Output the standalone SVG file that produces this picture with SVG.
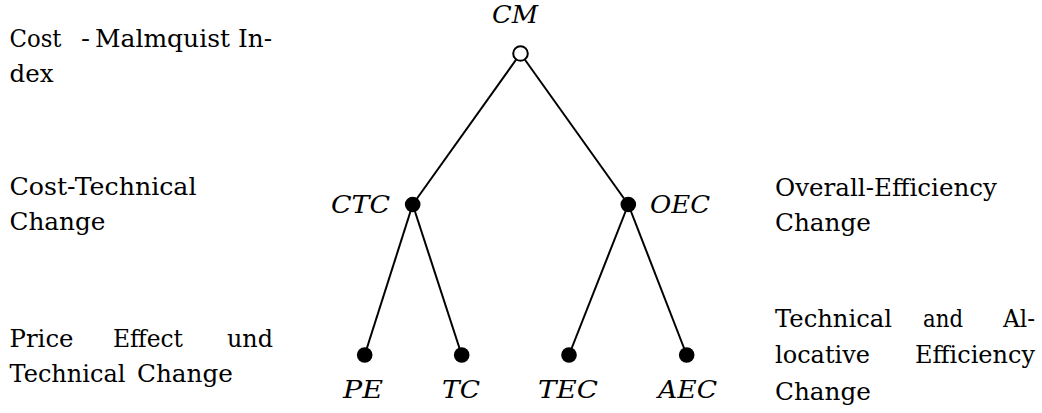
<svg xmlns="http://www.w3.org/2000/svg" width="1042" height="413" viewBox="0 0 1042 413">
<style>
.t{font-size:25px;fill:#000}
.m{font-size:25px;font-style:italic;fill:#000}
.e{stroke:#000;stroke-width:2;fill:none}
.d{fill:#000}
</style>
<rect width="1042" height="413" fill="#fff"/>
<g id="connectors">
<line class="e" x1="520.5" y1="53.5" x2="412.7" y2="204.5"/>
<line class="e" x1="520.5" y1="53.5" x2="628.3" y2="204.5"/>
<line class="e" x1="412.7" y1="204.5" x2="364.7" y2="355"/>
<line class="e" x1="412.7" y1="204.5" x2="461.7" y2="355"/>
<line class="e" x1="628.3" y1="204.5" x2="569" y2="355"/>
<line class="e" x1="628.3" y1="204.5" x2="686.7" y2="355"/>
</g>
<g font-family="DejaVu Serif">
<g id="node-CM">
<circle cx="520.5" cy="53.5" r="7.3" fill="#fff" stroke="#000" stroke-width="2"/>
<text class="m" x="492" y="23" textLength="46" lengthAdjust="spacingAndGlyphs">CM</text>
</g>
<g id="node-CTC">
<circle class="d" cx="412.7" cy="204.5" r="7.8"/>
<text class="m" x="331" y="213" textLength="59" lengthAdjust="spacingAndGlyphs">CTC</text>
</g>
<g id="node-OEC">
<circle class="d" cx="628.3" cy="204.5" r="7.8"/>
<text class="m" x="650" y="213" textLength="60" lengthAdjust="spacingAndGlyphs">OEC</text>
</g>
<g id="node-PE">
<circle class="d" cx="364.7" cy="355" r="7.8"/>
<text class="m" x="343" y="398" textLength="40" lengthAdjust="spacingAndGlyphs">PE</text>
</g>
<g id="node-TC">
<circle class="d" cx="461.7" cy="355" r="7.8"/>
<text class="m" x="442" y="398" textLength="38" lengthAdjust="spacingAndGlyphs">TC</text>
</g>
<g id="node-TEC">
<circle class="d" cx="569" cy="355" r="7.8"/>
<text class="m" x="538" y="398" textLength="60" lengthAdjust="spacingAndGlyphs">TEC</text>
</g>
<g id="node-AEC">
<circle class="d" cx="686.7" cy="355" r="7.8"/>
<text class="m" x="658" y="398" textLength="59" lengthAdjust="spacingAndGlyphs">AEC</text>
</g>
<g id="label-cost-malmquist">
<text class="t" x="9.5" y="47" textLength="52" lengthAdjust="spacingAndGlyphs">Cost</text>
<text class="t" x="81" y="47" textLength="9" lengthAdjust="spacingAndGlyphs">-</text>
<text class="t" x="95" y="47" textLength="135" lengthAdjust="spacingAndGlyphs">Malmquist</text>
<text class="t" x="238" y="47" textLength="34" lengthAdjust="spacingAndGlyphs">In-</text>
<text class="t" x="9.5" y="82" textLength="44" lengthAdjust="spacingAndGlyphs">dex</text>
</g>
<g id="label-cost-technical">
<text class="t" x="9.5" y="195" textLength="187" lengthAdjust="spacingAndGlyphs">Cost-Technical</text>
<text class="t" x="9.5" y="230" textLength="96" lengthAdjust="spacingAndGlyphs">Change</text>
</g>
<g id="label-price-effect">
<text class="t" x="9.5" y="347" textLength="64" lengthAdjust="spacingAndGlyphs">Price</text>
<text class="t" x="113" y="347" textLength="70" lengthAdjust="spacingAndGlyphs">Effect</text>
<text class="t" x="227" y="347" textLength="46" lengthAdjust="spacingAndGlyphs">und</text>
<text class="t" x="9.5" y="382" textLength="116" lengthAdjust="spacingAndGlyphs">Technical</text>
<text class="t" x="137" y="382" textLength="96" lengthAdjust="spacingAndGlyphs">Change</text>
</g>
<g id="label-overall-efficiency">
<text class="t" x="775" y="196" textLength="222" lengthAdjust="spacingAndGlyphs">Overall-Efficiency</text>
<text class="t" x="775" y="231" textLength="96" lengthAdjust="spacingAndGlyphs">Change</text>
</g>
<g id="label-technical-allocative">
<text class="t" x="775" y="327" textLength="117" lengthAdjust="spacingAndGlyphs">Technical</text>
<text class="t" x="923" y="327" textLength="40" lengthAdjust="spacingAndGlyphs">and</text>
<text class="t" x="1003" y="327" textLength="32" lengthAdjust="spacingAndGlyphs">Al-</text>
<text class="t" x="775" y="363" textLength="95" lengthAdjust="spacingAndGlyphs">locative</text>
<text class="t" x="915" y="363" textLength="120" lengthAdjust="spacingAndGlyphs">Efficiency</text>
<text class="t" x="775" y="400" textLength="96" lengthAdjust="spacingAndGlyphs">Change</text>
</g>
</g>
</svg>
